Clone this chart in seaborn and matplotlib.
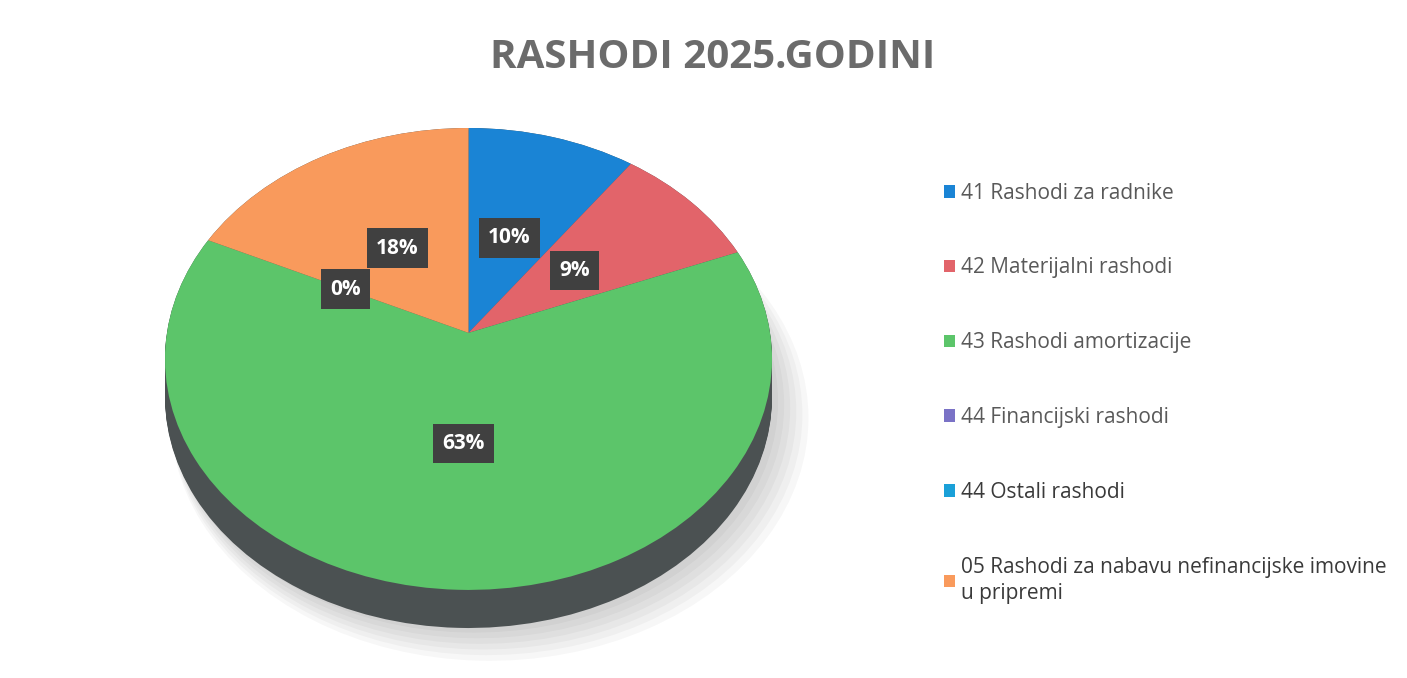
import matplotlib.pyplot as plt
import numpy as np
import pandas as pd
import seaborn as sns
from matplotlib.transforms import Transform, Affine2D

categories = ['41 Rashodi za radnike', '42 Materijalni rashodi', '43 Rashodi amortizacije',
              '44 Financijski rashodi', '44 Ostali rashodi',
              '05 Rashodi za nabavu nefinancijske imovine\nu pripremi']
shares = [10, 9, 63, 0, 0, 18]
pct_labels = ['10%', '9%', '63%', '0%', '0%', '18%']
title = 'RASHODI 2025.GODINI'

colors = ['#1a84d5', '#e2646a', '#5cc56a', '#7a72c6', '#1aa0d8', '#f99a5c']
side_color = '#4b5152'
label_colors = ['#595959', '#595959', '#595959', '#595959', '#3a3a3a', '#3a3a3a']

df = pd.DataFrame({'cat': categories, 'share': shares, 'pct': pct_labels})


class Tilt(Transform):
    # simple perspective so the far half of the disc looks smaller
    input_dims = 2
    output_dims = 2

    def __init__(self, k):
        super().__init__()
        self.k = k

    def transform_non_affine(self, values):
        v = np.asarray(values, dtype=float)
        d = 1 + self.k * v[:, 1]
        return np.column_stack([v[:, 0] / d, v[:, 1] / d])


sns.set_theme(style='white')
plt.rcParams['font.family'] = ['Open Sans', 'DejaVu Sans']

fig = plt.figure(figsize=(14.07, 6.78), dpi=100)
fig.patch.set_facecolor('white')
ax = fig.add_axes([165 / 1407, 50 / 678, 607 / 1407, 500 / 678])

k = 0.113
tilt = Tilt(k)
depth = 0.167


def draw_pie(cols, dx=0.0, dy=0.0, radius=1.0, **wp):
    ws, _ = ax.pie(df['share'], startangle=90, counterclock=False, colors=cols,
                   radius=radius, wedgeprops=dict(linewidth=0, **wp))
    for w in ws:
        w.set_transform(tilt + Affine2D().translate(dx, dy) + ax.transData)
    return ws


# soft shadow
for i in range(6):
    draw_pie(['#000000'] * len(df), dx=0.02 + 0.01 * i, dy=-depth - 0.02 - 0.012 * i,
             radius=1.0 + 0.01 * i, alpha=0.03)
# side of the disc
for c in np.linspace(-depth, 0, 30):
    draw_pie([side_color] * len(df), dy=c)
wedges = draw_pie(colors)

for w, txt in zip(wedges, df['pct']):
    mid = np.deg2rad((w.theta1 + w.theta2) / 2)
    px, py = tilt.transform(np.array([[0.46 * np.cos(mid), 0.46 * np.sin(mid)]]))[0]
    ax.text(px, py, txt, ha='center', va='center',
            color='white', fontsize=15, fontweight='bold',
            bbox=dict(boxstyle='square,pad=0.45', facecolor='#404040', edgecolor='none'))

xr = 1 / np.sqrt(1 - k ** 2)
ax.set_aspect('auto')
ax.set_xlim(-xr, xr)
ax.set_ylim(-1 / (1 - k) - depth, 1 / (1 + k))
ax.axis('off')

fig.text(713 / 1407, 1 - 58 / 678, title, ha='center', va='center',
         fontsize=29, fontweight='bold', color='#6b6b6b')

leg = fig.legend(wedges, df['cat'], loc='upper left', bbox_to_anchor=(925 / 1407, 1 - 164 / 678),
                 frameon=False, fontsize=15, handlelength=0.55, handleheight=0.55,
                 handletextpad=0.3, labelspacing=2.58)
for t, c in zip(leg.get_texts(), label_colors):
    t.set_color(c)
    t.set_linespacing(1.35)

fig.savefig('out.png', dpi=100, facecolor='white')
